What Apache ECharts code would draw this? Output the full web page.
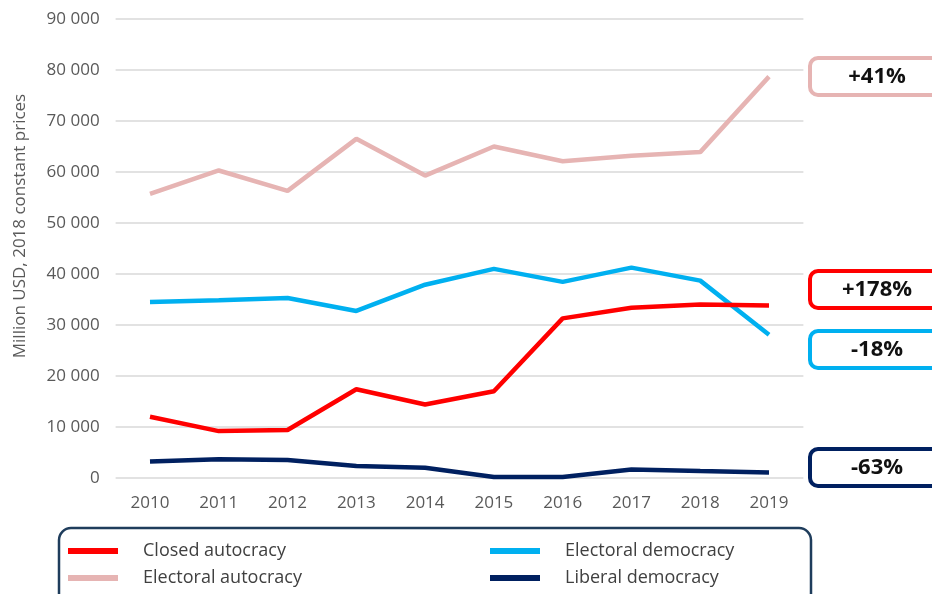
<!DOCTYPE html>
<html>
<head>
<meta charset="utf-8">
<script src="https://cdn.jsdelivr.net/npm/echarts@6/dist/echarts.min.js"></script>
<style>
html,body{margin:0;padding:0;background:#fff;}
#chart{width:932px;height:594px;}
</style>
</head>
<body>
<div id="chart"></div>
<script>
var years = ['2010','2011','2012','2013','2014','2015','2016','2017','2018','2019'];
var closedAutocracy = [12000, 9200, 9400, 17400, 14400, 17000, 31300, 33400, 34000, 33800];
var electoralAutocracy = [55700, 60300, 56300, 66500, 59300, 65000, 62100, 63200, 63900, 78700];
var electoralDemocracy = [34500, 34850, 35300, 32750, 37900, 41000, 38450, 41250, 38700, 28100];
var liberalDemocracy = [3250, 3700, 3550, 2350, 2000, 200, 200, 1650, 1350, 1100];
var yTicks = [0, 10000, 20000, 30000, 40000, 50000, 60000, 70000, 80000, 90000];
var changeLabels = ['+41%', '+178%', '-18%', '-63%'];

var colors = {
  closed: '#ff0000',
  elecAuto: '#e6b4b3',
  elecDemo: '#00b0f0',
  liberal: '#002060'
};
var font = '"Open Sans", "Liberation Sans", sans-serif';

var chart = echarts.init(document.getElementById('chart'));

function fmt(v){
  var s = String(v);
  if (v >= 1000) s = s.slice(0, s.length-3) + ' ' + s.slice(s.length-3);
  return s;
}

function box(y, color, text){
  return {
    type: 'group',
    children: [
      {type:'rect', shape:{x:810, y:y, width:150, height:37, r:8},
       style:{fill:'#fff', stroke:color, lineWidth:4}},
      {type:'text', x:877, y:y+19,
       style:{text:text, font:'bold 22px ' + font, fill:'#111', align:'center', verticalAlign:'middle'}}
    ]
  };
}

function legendItem(name, left, top){
  return {
    orient: 'horizontal', left: left, top: top, itemWidth: 50, itemHeight: 6,
    icon: 'rect', padding: 0,
    textStyle: {color: '#404040', fontSize: 18, fontFamily: font, padding: [0,0,0,20]},
    data: [name]
  };
}

var lineW = 4.5;
var option = {
  animation: false,
  grid: {left: 115.6, right: 128.6, top: 19, bottom: 116},
  xAxis: {
    type: 'category',
    data: years,
    boundaryGap: true,
    axisLine: {show: false},
    axisTick: {show: false},
    axisLabel: {color: '#595959', fontSize: 17, fontFamily: font, margin: 17}
  },
  yAxis: {
    type: 'value',
    min: yTicks[0],
    max: yTicks[yTicks.length-1],
    interval: yTicks[1]-yTicks[0],
    axisLine: {show: false},
    axisTick: {show: false},
    axisLabel: {color: '#595959', fontSize: 17, fontFamily: font, margin: 16, formatter: fmt},
    splitLine: {lineStyle: {color: '#d9d9d9', width: 1.5}}
  },
  legend: [
    legendItem('Closed autocracy', 68, 542),
    legendItem('Electoral autocracy', 68, 569),
    legendItem('Electoral democracy', 490, 542),
    legendItem('Liberal democracy', 490, 569)
  ],
  series: [
    {name:'Closed autocracy', type:'line', data: closedAutocracy, symbol:'none', color: colors.closed, lineStyle:{width:lineW, color: colors.closed}, z:4},
    {name:'Electoral autocracy', type:'line', data: electoralAutocracy, symbol:'none', color: colors.elecAuto, lineStyle:{width:lineW, color: colors.elecAuto}, z:2},
    {name:'Electoral democracy', type:'line', data: electoralDemocracy, symbol:'none', color: colors.elecDemo, lineStyle:{width:lineW, color: colors.elecDemo}, z:3},
    {name:'Liberal democracy', type:'line', data: liberalDemocracy, symbol:'none', color: colors.liberal, lineStyle:{width:lineW, color: colors.liberal}, z:5}
  ],
  graphic: [
    {type:'text', x:20, y:226, rotation: Math.PI/2,
     style:{text:'Million USD, 2018 constant prices', font:'17px ' + font, fill:'#595959', align:'center', verticalAlign:'middle'}},
    {type:'rect', shape:{x:59, y:528, width:752, height:90, r:12},
     style:{fill:'none', stroke:'#1f3d5c', lineWidth:2.5}, z:-1},
    box(58, colors.elecAuto, changeLabels[0]),
    box(271, colors.closed, changeLabels[1]),
    box(331, colors.elecDemo, changeLabels[2]),
    box(449, colors.liberal, changeLabels[3])
  ]
};
chart.setOption(option);
</script>
</body>
</html>
